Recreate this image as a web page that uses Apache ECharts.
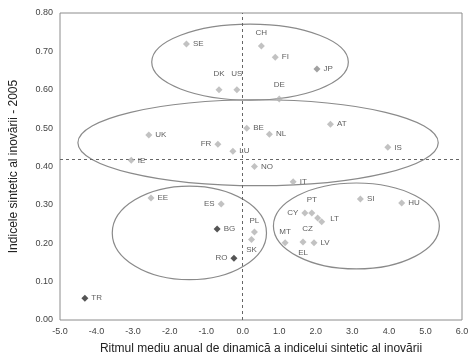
<!DOCTYPE html>
<html>
<head>
<meta charset="utf-8">
<script src="https://cdn.jsdelivr.net/npm/echarts@6/dist/echarts.min.js"></script>
<style>html,body{margin:0;padding:0;background:#fff}#c{width:474px;height:361px}</style>
</head>
<body>
<div id="c"></div>
<script>
var countries = ['SE','CH','FI','JP','DK','US','DE','UK','FR','LU','IE','BE','NL','AT','IS','NO','IT','EE','ES','BG','RO','TR','PL','SK','CY','PT','CZ','LT','SI','HU','MT','EL','LV'];
var rhythm   = [-1.54,0.51,0.89,2.03,-0.65,-0.16,1.00,-2.57,-0.68,-0.27,-3.05,0.11,0.73,2.40,3.97,0.32,1.38,-2.51,-0.59,-0.70,-0.24,-4.32,0.32,0.24,1.70,1.89,2.05,2.16,3.22,4.35,1.16,1.65,1.95];
var index2005 = [0.719,0.714,0.685,0.654,0.600,0.600,0.576,0.482,0.458,0.440,0.416,0.500,0.484,0.510,0.450,0.400,0.360,0.318,0.302,0.237,0.161,0.057,0.229,0.210,0.279,0.279,0.266,0.256,0.315,0.305,0.201,0.203,0.201];
var xTicks = [-5,-4,-3,-2,-1,0,1,2,3,4,5,6];
var yTicks = [0,0.1,0.2,0.3,0.4,0.5,0.6,0.7,0.8];
var refX = 0;
var refY = 0.42;
// groups (ellipses) in data units: centre x, centre y, radius x, radius y
var ellCx = [0.20, 0.42, -1.46, 3.11];
var ellCy = [0.672, 0.462, 0.227, 0.245];
var ellRx = [2.69, 4.93, 2.11, 2.27];
var ellRy = [0.099, 0.112, 0.122, 0.112];

// styling
var darkSet = {BG:1, RO:1, TR:1};
var midSet = {JP:1};
var labelPos = {
  SE:['right'], CH:['top',[0,-3]], FI:['right'], JP:['right'], DK:['top',[0,-5]], US:['top',[0,-5]],
  DE:['top',[0,-4]], UK:['right'], FR:['left'], LU:['right'], IE:['right'], BE:['right'], NL:['right'],
  AT:['right'], IS:['right'], NO:['right'], IT:['right'], EE:['right'], ES:['left'], BG:['right'],
  RO:['left'], TR:['right'], PL:['top',[0,-1]], SK:['bottom',[0,0]], CY:['left'], PT:['top',[0,-3]],
  CZ:['bottom',[-10,0]], LT:['right',[2,-3]], SI:['right'], HU:['right'], MT:['top',[0,-1]], EL:['bottom',[0,0]], LV:['right']
};

var data = countries.map(function(c, i){
  var col = darkSet[c] ? '#2a2a2a' : (midSet[c] ? '#8a8a8a' : '#b3b3b3');
  var lp = labelPos[c] || ['right'];
  return {
    name: c, value: [rhythm[i], index2005[i]],
    itemStyle: {color: col},
    label: {show: true, formatter: c, position: lp[0], offset: lp[1] || [0,0], distance: 3,
            color: '#333', fontSize: 8, fontFamily: 'Liberation Sans, Arial, sans-serif'}
  };
});

var chart = echarts.init(document.getElementById('c'), null, {renderer: 'canvas'});
var font = 'Liberation Sans, Arial, sans-serif';
chart.setOption({
  animation: false,
  backgroundColor: '#fff',
  grid: {left: 55, top: 13, right: 12, bottom: 41, show: true, borderColor: '#8c8c8c', borderWidth: 1},
  xAxis: {
    type: 'value', min: xTicks[0], max: xTicks[xTicks.length-1], interval: 1,
    name: 'Ritmul mediu anual de dinamică a indicelui sintetic al inovării',
    nameLocation: 'middle', nameGap: 23,
    nameTextStyle: {color: '#222', fontSize: 12, fontFamily: font},
    axisLine: {show: false}, axisTick: {show: false}, splitLine: {show: false},
    axisLabel: {color: '#444', fontSize: 9, fontFamily: font, margin: 7,
      formatter: function(v){ return v.toFixed(1); }}
  },
  yAxis: {
    type: 'value', min: yTicks[0], max: yTicks[yTicks.length-1], interval: 0.1,
    name: 'Indicele sintetic al inovării - 2005',
    nameLocation: 'middle', nameGap: 40,
    nameTextStyle: {color: '#222', fontSize: 12, fontFamily: font},
    axisLine: {show: false}, axisTick: {show: false}, splitLine: {show: false},
    axisLabel: {color: '#444', fontSize: 9, fontFamily: font, margin: 7,
      formatter: function(v){ return v.toFixed(2); }}
  },
  series: [{
    type: 'scatter', symbol: 'diamond', symbolSize: 7, data: data, z: 5,
    markLine: {
      silent: true, symbol: 'none', label: {show: false},
      lineStyle: {type: [3,3], color: '#666', width: 1},
      data: [{xAxis: refX}, {yAxis: refY}]
    }
  }]
});

var graphics = [];
for (var i = 0; i < ellCx.length; i++) {
  var c = chart.convertToPixel({gridIndex: 0}, [ellCx[i], ellCy[i]]);
  var e = chart.convertToPixel({gridIndex: 0}, [ellCx[i] + ellRx[i], ellCy[i] + ellRy[i]]);
  graphics.push({
    type: 'ellipse', silent: true, z: 3,
    shape: {cx: c[0], cy: c[1], rx: Math.abs(e[0]-c[0]), ry: Math.abs(e[1]-c[1])},
    style: {fill: 'none', stroke: '#8a8a8a', lineWidth: 1.2}
  });
}
chart.setOption({graphic: graphics});
</script>
</body>
</html>
